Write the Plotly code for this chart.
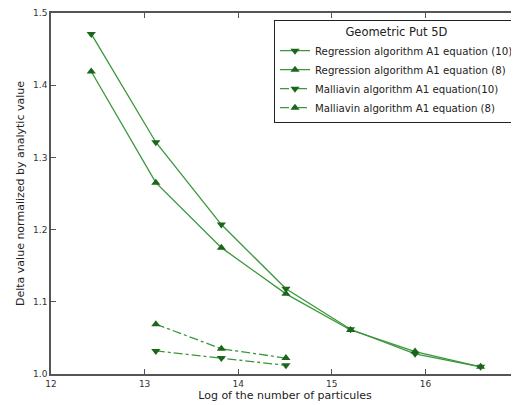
import numpy as np
import plotly.graph_objects as go

# log of number of particles
x_reg = [12.43, 13.12, 13.82, 14.51, 15.20, 15.89, 16.59]
reg_eq10 = [1.471, 1.321, 1.207, 1.118, 1.062, 1.028, 1.010]
reg_eq8 = [1.419, 1.265, 1.175, 1.111, 1.061, 1.031, 1.010]

x_mal = [13.12, 13.82, 14.51]
mal_eq10 = [1.032, 1.022, 1.012]
mal_eq8 = [1.069, 1.035, 1.022]

y_ticks = [1.0, 1.1, 1.2, 1.3, 1.4, 1.5]
x_ticks = [12, 13, 14, 15, 16, 17]

LINE = "#3a973a"
MARK = "#1b661b"
FONT = "DejaVu Sans"

series = [
    ("Regression algorithm A1 equation (10)", x_reg, reg_eq10, "triangle-down", "solid"),
    ("Regression algorithm A1 equation (8)", x_reg, reg_eq8, "triangle-up", "solid"),
    ("Malliavin algorithm A1 equation(10)", x_mal, mal_eq10, "triangle-down", "dashdot"),
    ("Malliavin algorithm A1 equation (8)", x_mal, mal_eq8, "triangle-up", "dashdot"),
]

fig = go.Figure()
for name, xs, ys, sym, dash in series:
    fig.add_trace(go.Scatter(
        x=xs, y=ys, name=name, mode="lines+markers",
        line=dict(color=LINE, width=1.3, dash=dash),
        marker=dict(symbol=sym, size=8, color=MARK),
    ))

axis_common = dict(
    showgrid=False, zeroline=False, showline=True, linecolor="#555555", linewidth=1.5,
    mirror="ticks", ticks="inside", ticklen=5, tickcolor="#555555",
    tickfont=dict(size=9, color="#333333", family=FONT),
    ticklabeloverflow="allow",
)

# note: the page body adds an 8px offset, margins are set with that in mind
fig.update_xaxes(range=[12, 17], tickvals=x_ticks,
                 title=dict(text="Log of the number of particules", font=dict(size=11, color="#222222", family=FONT), standoff=4),
                 **axis_common)
fig.update_yaxes(range=[1.0, 1.5], tickvals=y_ticks, ticktext=[f"{v:.1f}" for v in y_ticks],
                 title=dict(text="Delta value normalized by analytic value", font=dict(size=11, color="#222222", family=FONT), standoff=6),
                 **axis_common)

fig.update_layout(
    width=519, height=405,
    margin=dict(l=43, r=8, t=5, b=39, autoexpand=False),
    paper_bgcolor="white", plot_bgcolor="white",
    font=dict(family=FONT, color="#222222"),
    legend=dict(
        x=1.0, y=0.98, xanchor="right", yanchor="top",
        bordercolor="#222222", borderwidth=1, bgcolor="white",
        font=dict(size=10.2, family=FONT), tracegroupgap=0, itemwidth=30,
        title=dict(text="Geometric Put 5D", side="top center", font=dict(size=11.5, family=FONT)),
    ),
)

fig.write_html("out.html")
